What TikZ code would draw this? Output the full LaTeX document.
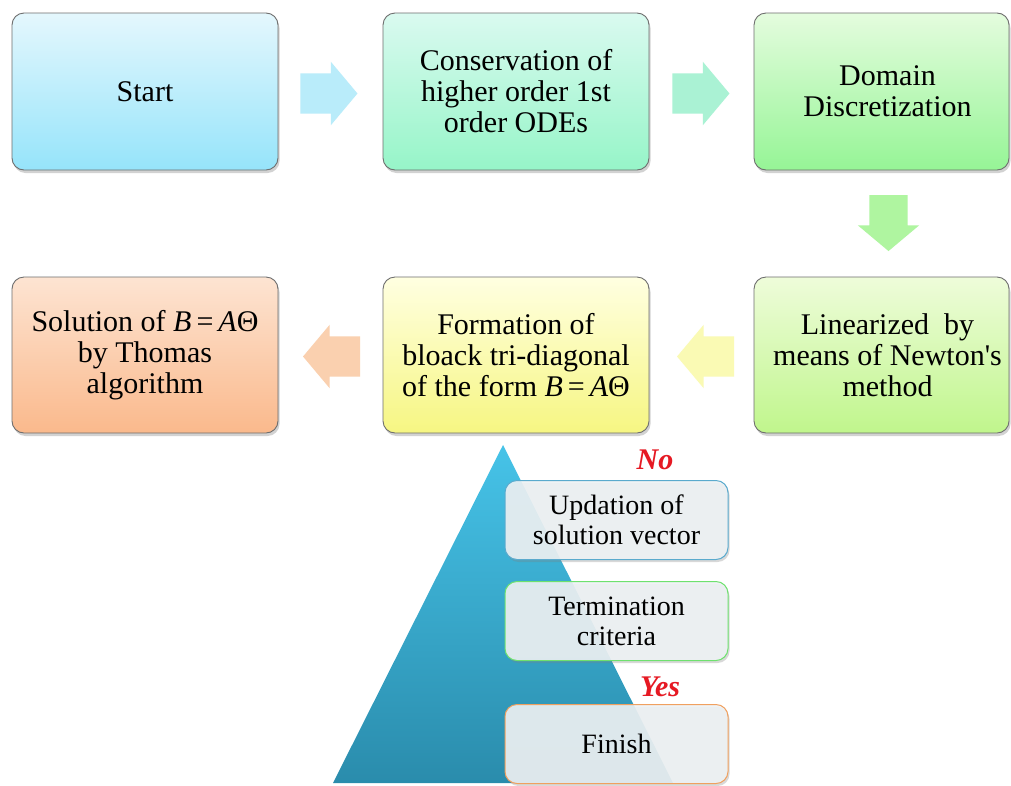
\documentclass[tikz,border=0pt]{standalone}
\usepackage{fontspec}
\setmainfont{Liberation Serif}
\usetikzlibrary{shapes.arrows,shadows,calc}
\definecolor{boxborder}{RGB}{110,110,110}
\definecolor{startT}{RGB}{228,247,253}
\definecolor{startB}{RGB}{150,228,250}
\definecolor{consT}{RGB}{218,250,240}
\definecolor{consB}{RGB}{150,245,200}
\definecolor{domT}{RGB}{228,252,222}
\definecolor{domB}{RGB}{150,245,150}
\definecolor{linT}{RGB}{238,252,218}
\definecolor{linB}{RGB}{192,246,140}
\definecolor{formT}{RGB}{255,255,225}
\definecolor{formB}{RGB}{246,246,130}
\definecolor{solT}{RGB}{253,228,210}
\definecolor{solB}{RGB}{250,185,140}
\definecolor{arrA}{RGB}{185,236,250}
\definecolor{arrB}{RGB}{170,242,212}
\definecolor{arrC}{RGB}{175,245,160}
\definecolor{arrD}{RGB}{250,250,180}
\definecolor{arrE}{RGB}{250,208,175}
\definecolor{pyrT}{RGB}{70,195,232}
\definecolor{pyrB}{RGB}{42,140,172}
\definecolor{pfill}{RGB}{238,242,244}
\definecolor{updBorder}{RGB}{90,170,205}
\definecolor{terBorder}{RGB}{110,225,110}
\definecolor{finBorder}{RGB}{240,160,95}
\definecolor{ansred}{RGB}{230,25,35}
\begin{document}
\begin{tikzpicture}[x=1pt,y=-1pt,
  box/.style={rectangle, rounded corners=12pt, draw=boxborder, line width=0.9pt,
    minimum width=266pt, minimum height=157pt, align=center, inner sep=4pt,
    font=\rmfamily\fontsize{30}{31}\selectfont, shading=axis,
    drop shadow={shadow xshift=1.5pt, shadow yshift=-3pt, opacity=0.35}},
  pbox/.style={rectangle, rounded corners=12pt, line width=1pt,
    minimum width=223pt, minimum height=79pt, align=center, inner sep=2pt,
    font=\rmfamily\fontsize{28}{30}\selectfont, fill=pfill, fill opacity=0.9, text opacity=1,
    drop shadow={shadow xshift=1.5pt, shadow yshift=-2.5pt, opacity=0.3}},
  barrow/.style={single arrow, draw=none, inner xsep=0pt, inner ysep=20pt,
    minimum height=57pt, single arrow head extend=11.5pt, single arrow tip angle=100,
    anchor=center},
  varrow/.style={barrow, inner xsep=19pt, inner ysep=0pt, minimum height=56pt},
  answer/.style={text=ansred, font=\rmfamily\fontsize{30}{32}\selectfont\bfseries\itshape}
]
\useasboundingbox (0,0) rectangle (1011,785);
\fill[white] (0,0) rectangle (1011,785);

% top row
\node[box, top color=startT, bottom color=startB] (start) at (145,91.5) {Start};
\node[box, top color=consT, bottom color=consB] (cons) at (516,91.5)
  {Conservation of\\higher order 1st\\order ODEs};
\node[box, top color=domT, bottom color=domB, minimum width=255pt] (dom) at (881.5,91.5)
  {\hspace*{12pt}Domain\\\hspace*{12pt}Discretization};

% bottom row
\node[box, top color=linT, bottom color=linB, minimum width=255pt, minimum height=156pt] (lin) at (881.5,355)
  {\hspace*{12pt}Linearized\ \ by\\\hspace*{12pt}means of Newton\textquotesingle s\\\hspace*{12pt}method};
\node[box, top color=formT, bottom color=formB, minimum height=156pt] (form) at (516,355)
  {Formation of\\bloack tri-diagonal\\of the form {\itshape B}\,=\,{\itshape A}Θ};
\node[box, top color=solT, bottom color=solB, minimum height=156pt] (sol) at (145,355)
  {Solution of {\itshape B}\,=\,{\itshape A}Θ\\by Thomas\\algorithm};

% block arrows
\node[barrow, fill=arrA] (a1) at (320.5,93.5) {};
\node[barrow, fill=arrB] (a2) at (692.5,93.5) {};
\node[varrow, fill=arrC, shape border rotate=270] (a3) at (888.5,215) {};
\node[barrow, fill=arrD, shape border rotate=180] (a4) at (714,356.5) {};
\node[barrow, fill=arrE, shape border rotate=180] (a5) at (340,356.5) {};

% pyramid
\shade[top color=pyrT, bottom color=pyrB] (503,445) -- (673,783) -- (333,783) -- cycle;

\node[pbox, draw=updBorder] (upd) at (616.5,520) {Updation of\\solution vector};
\node[pbox, draw=terBorder] (ter) at (616.5,621) {Termination\\criteria};
\node[pbox, draw=finBorder] (fin) at (616.5,744) {Finish};

\node[answer] (no) at (655,460) {No};
\node[answer] (yes) at (660,687) {Yes};
\end{tikzpicture}
\end{document}
